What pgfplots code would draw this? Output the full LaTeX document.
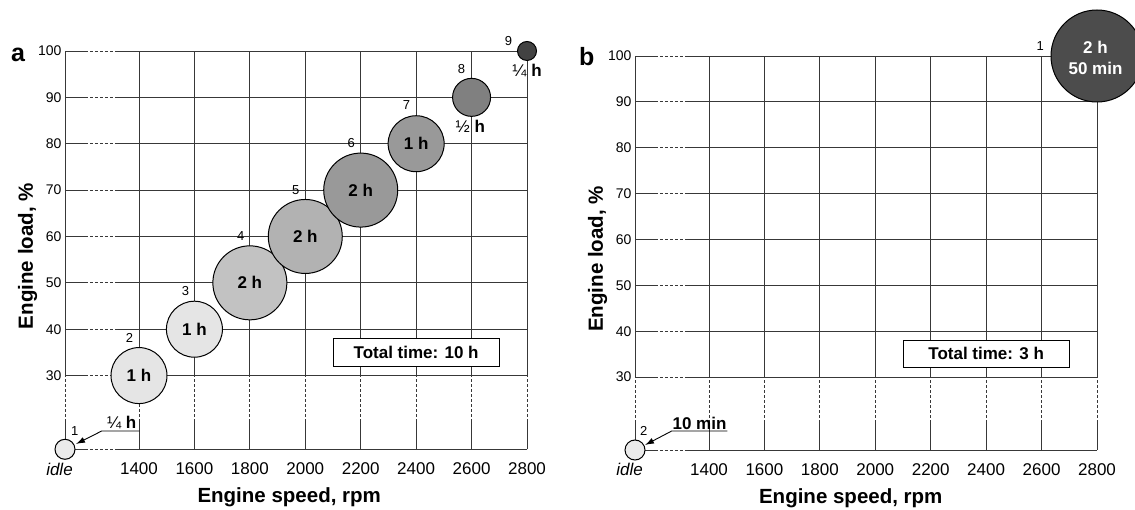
\documentclass[border=0pt]{standalone}
\usepackage{fontspec}
\setmainfont{Liberation Sans}
\usepackage{pgfplots}
\pgfplotsset{compat=1.18}
\usetikzlibrary{arrows.meta}

\definecolor{gridc}{gray}{0.22}
\definecolor{cA}{gray}{0.92}
\definecolor{cB}{gray}{0.90}
\definecolor{cC}{gray}{0.76}
\definecolor{cD}{gray}{0.70}
\definecolor{cE}{gray}{0.60}
\definecolor{cF}{gray}{0.50}
\definecolor{cG}{gray}{0.26}
\definecolor{cH}{gray}{0.30}

\tikzset{
  gl/.style={draw=gridc, line width=0.9pt},
  gld/.style={draw=gridc, line width=0.9pt, dash pattern=on 3pt off 2pt},
  numlab/.style={font=\fontsize{13}{15}\selectfont, inner sep=0pt},
  blab/.style={font=\bfseries\fontsize{17}{20}\selectfont, inner sep=0pt},
}

\pgfplotsset{
  panel/.style={
    set layers,
    scale only axis, width=462pt,
    xmin=1133, xmax=2800, ymin=14.1, ymax=100,
    axis line style={draw=none}, major tick length=0pt,
    /pgf/number format/assume math mode=true,
    xtick={1133,1400,1600,1800,2000,2200,2400,2600,2800},
    xticklabels={\mbox{\itshape idle\hspace*{11pt}},\mbox{1400},\mbox{1600},\mbox{1800},\mbox{2000},\mbox{2200},\mbox{2400},\mbox{2600},\mbox{2800}},
    ytick={30,40,50,60,70,80,90,100},
    yticklabels={\mbox{30},\mbox{40},\mbox{50},\mbox{60},\mbox{70},\mbox{80},\mbox{90},\mbox{100}},
    xticklabel style={font=\fontsize{17}{20}\selectfont, yshift=-10pt},
    yticklabel style={font=\fontsize{14}{16}\selectfont},
    xlabel={Engine speed, rpm}, ylabel={Engine load, \%},
    label style={font=\bfseries\fontsize{20.5}{24}\selectfont},
    clip=false,
  },
}

\newcommand{\drawgrid}{%
  \pgfplotsinvokeforeach{30,40,50,60,70,80,90,100}{%
    \draw[gl] (axis cs:1133,##1) -- (axis cs:1205,##1);
    \draw[gld] (axis cs:1205,##1) -- (axis cs:1315,##1);
    \draw[gl] (axis cs:1315,##1) -- (axis cs:2800,##1);
  }%
  \draw[gl] (axis cs:1133,14.1) -- (axis cs:1205,14.1);
  \draw[gld] (axis cs:1205,14.1) -- (axis cs:1315,14.1);
  \draw[gl] (axis cs:1315,14.1) -- (axis cs:2800,14.1);
  \pgfplotsinvokeforeach{1133,1400,1600,1800,2000,2200,2400,2600,2800}{%
    \draw[gl] (axis cs:##1,14.1) -- (axis cs:##1,20);
    \draw[gld] (axis cs:##1,20) -- (axis cs:##1,30);
    \draw[gl] (axis cs:##1,30) -- (axis cs:##1,100);
  }%
}

\begin{document}
\begin{tikzpicture}
\node[anchor=base west, inner sep=0pt, font=\bfseries\fontsize{25}{30}\selectfont] at (11pt,447.3pt) {a};
\node[anchor=base west, inner sep=0pt, font=\bfseries\fontsize{25}{30}\selectfont] at (579pt,443.3pt) {b};

% ---------------- panel a ----------------
\begin{axis}[panel, height=398.3pt, at={(65pt,59.7pt)}, anchor=south west,
  xlabel style={at={(axis description cs:0.4853,-0.1348)}, anchor=base},
  ylabel style={at={(axis description cs:-0.0693,0.485)}, anchor=base}]
\begin{pgfonlayer}{axis background}
\drawgrid
\end{pgfonlayer}
\addplot[only marks, mark=*, mark size=10pt, mark options={fill=cA, draw=black, line width=1pt}] coordinates {(1133,14.1)};
\addplot[only marks, mark=*, mark size=28pt, mark options={fill=cB, draw=black, line width=1pt}] coordinates {(1400,30)};
\addplot[only marks, mark=*, mark size=28pt, mark options={fill=cB, draw=black, line width=1pt}] coordinates {(1600,40)};
\addplot[only marks, mark=*, mark size=37pt, mark options={fill=cC, draw=black, line width=1pt}] coordinates {(1800,50)};
\addplot[only marks, mark=*, mark size=37pt, mark options={fill=cD, draw=black, line width=1pt}] coordinates {(2000,60)};
\addplot[only marks, mark=*, mark size=37pt, mark options={fill=cE, draw=black, line width=1pt}] coordinates {(2200,70)};
\addplot[only marks, mark=*, mark size=28pt, mark options={fill=cE, draw=black, line width=1pt}] coordinates {(2400,80)};
\addplot[only marks, mark=*, mark size=19pt, mark options={fill=cF, draw=black, line width=1pt}] coordinates {(2600,90)};
\addplot[only marks, mark=*, mark size=9.5pt, mark options={fill=cG, draw=black, line width=1pt}] coordinates {(2800,100)};

\begin{pgfonlayer}{axis foreground}
\node[numlab, xshift=9.7pt, yshift=18.3pt] at (axis cs:1133,14.1) {1};
\node[numlab, xshift=-9.5pt, yshift=37.7pt] at (axis cs:1400,30) {2};
\node[numlab, xshift=-9pt, yshift=38pt] at (axis cs:1600,40) {3};
\node[numlab, xshift=-9pt, yshift=46.7pt] at (axis cs:1800,50) {4};
\node[numlab, xshift=-9.5pt, yshift=46pt] at (axis cs:2000,60) {5};
\node[numlab, xshift=-9.5pt, yshift=47pt] at (axis cs:2200,70) {6};
\node[numlab, xshift=-9.7pt, yshift=38.4pt] at (axis cs:2400,80) {7};
\node[numlab, xshift=-10pt, yshift=28pt] at (axis cs:2600,90) {8};
\node[numlab, xshift=-18.5pt, yshift=10pt] at (axis cs:2800,100) {9};

\node[blab] at (axis cs:1400,30) {1 h};
\node[blab] at (axis cs:1600,40) {1 h};
\node[blab] at (axis cs:1800,50) {2 h};
\node[blab] at (axis cs:2000,60) {2 h};
\node[blab] at (axis cs:2200,70) {2 h};
\node[blab] at (axis cs:2400,80) {1 h};
\node[blab, xshift=-1.3pt, yshift=-29pt] at (axis cs:2600,90) {\mdseries ½ \bfseries h};
\node[blab, xshift=0pt, yshift=-19.5pt] at (axis cs:2800,100) {\mdseries ¼ \bfseries h};

\node[blab, xshift=56.7pt, yshift=26.8pt] at (axis cs:1133,14.1) {\mdseries ¼ \bfseries h};
\draw[line width=0.9pt, -{Latex[length=9pt,width=6pt]}]
  ([shift={(74.3pt,18.3pt)}]axis cs:1133,14.1) -- ([shift={(36.7pt,18.3pt)}]axis cs:1133,14.1)
  -- ([shift={(11pt,5.3pt)}]axis cs:1133,14.1);

\node[draw=black, fill=white, line width=0.8pt, minimum width=166pt, minimum height=28pt, inner sep=0pt,
  font=\bfseries\fontsize{17}{20}\selectfont] at (axis cs:2400,35.1) {Total time: 10 h};
\end{pgfonlayer}
\end{axis}

% ---------------- panel b ----------------
\begin{axis}[panel, height=394pt, at={(635pt,59pt)}, anchor=south west,
  xlabel style={at={(axis description cs:0.467,-0.1353)}, anchor=base},
  ylabel style={at={(axis description cs:-0.0693,0.485)}, anchor=base}]
\begin{pgfonlayer}{axis background}
\drawgrid
\end{pgfonlayer}
\addplot[only marks, mark=*, mark size=10pt, mark options={fill=cA, draw=black, line width=1pt}] coordinates {(1133,14.1)};
\addplot[only marks, mark=*, mark size=46pt, mark options={fill=cH, draw=black, line width=1pt}] coordinates {(2800,100)};

\begin{pgfonlayer}{axis foreground}
\node[numlab, xshift=-56.7pt, yshift=9.7pt] at (axis cs:2800,100) {1};
\node[numlab, xshift=8.7pt, yshift=19pt] at (axis cs:1133,14.1) {2};

\node[blab, text=white, align=center, font=\bfseries\fontsize{17}{20.5}\selectfont, xshift=-1.5pt, yshift=-2pt]
  at (axis cs:2800,100) {2 h\\50 min};

\node[blab, xshift=64.5pt, yshift=27pt] at (axis cs:1133,14.1) {10 min};
\draw[line width=0.9pt, -{Latex[length=9pt,width=6pt]}]
  ([shift={(92.3pt,19pt)}]axis cs:1133,14.1) -- ([shift={(36.7pt,19pt)}]axis cs:1133,14.1)
  -- ([shift={(10pt,5pt)}]axis cs:1133,14.1);

\node[draw=black, fill=white, line width=0.8pt, minimum width=166pt, minimum height=27pt, inner sep=0pt,
  font=\bfseries\fontsize{17}{20}\selectfont] at (axis cs:2400,35.1) {Total time: 3 h};
\end{pgfonlayer}
\end{axis}
\pgfresetboundingbox
\path[use as bounding box] (0,0) rectangle (1135pt,509pt);
\end{tikzpicture}
\end{document}
